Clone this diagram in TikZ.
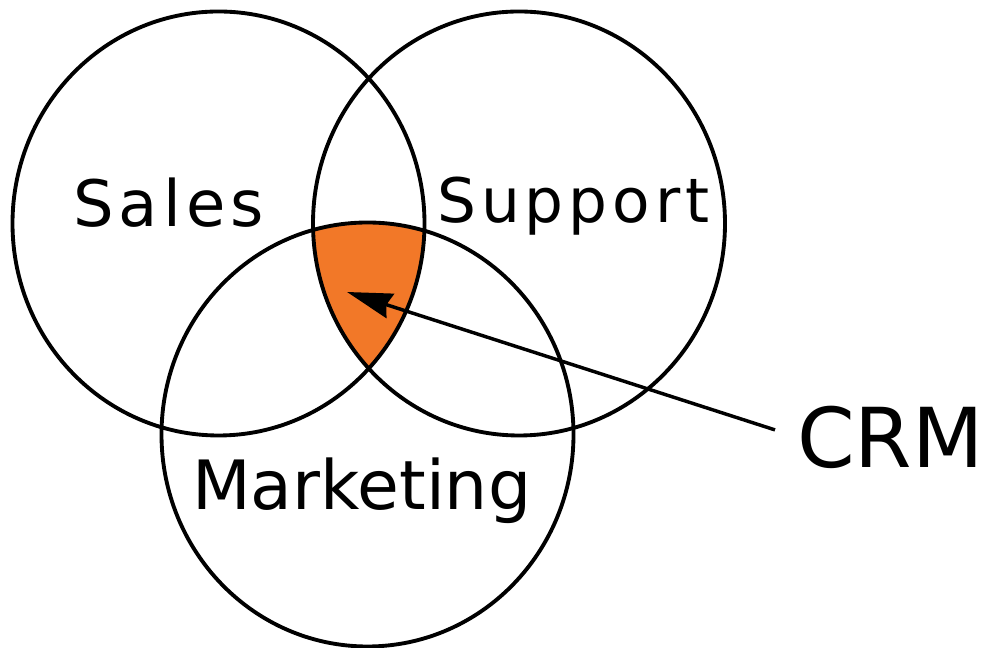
\documentclass[tikz,border=0pt]{standalone}
\usepackage{fontspec}
\setmainfont{DejaVu Sans}
\newfontfamily\widefont[LetterSpace=8]{DejaVu Sans}
\usepackage{xcolor}
\usetikzlibrary{arrows.meta}
\definecolor{crmorange}{RGB}{242,120,40}

\begin{document}
\begin{tikzpicture}[x=0.75pt,y=0.75pt,
		ring/.style={line width=2.9pt},
		label/.style={inner sep=0pt,anchor=base west},
		pointer/.style={line width=2.6pt,-{Stealth[length=34pt,width=19pt,inset=3pt]}}]
		\useasboundingbox (0,0) rectangle (988,648);
		\coordinate (sales) at (218.5,424.5);
		\coordinate (support) at (519,424.5);
		\coordinate (marketing) at (367.5,213.5);
		% common part of the three sets
		\begin{scope}
			\clip (sales) ellipse (206 and 212);
			\clip (support) ellipse (206 and 212);
			\fill[crmorange] (marketing) ellipse (206 and 212);
		\end{scope}
		\draw[ring] (sales) ellipse (206 and 212);
		\draw[ring] (support) ellipse (206 and 212);
		\draw[ring] (marketing) ellipse (206 and 212);
		\node[label,font=\widefont\fontsize{48}{50}\selectfont] (saleslabel) at (73,421) {Sales};
		\node[label,font=\widefont\fontsize{46}{48}\selectfont] (supportlabel) at (437,425) {Support};
		\node[label,font=\fontsize{51}{53}\selectfont] (marketinglabel) at (192,138) {Marketing};
		\node[label,font=\fontsize{62}{64}\selectfont] (crm) at (797,180) {CRM};
		\coordinate (tip) at (347,356);
		\draw[pointer] ([shift={(-22,8)}]crm.west) -- (tip);
	\end{tikzpicture}
\end{document}
